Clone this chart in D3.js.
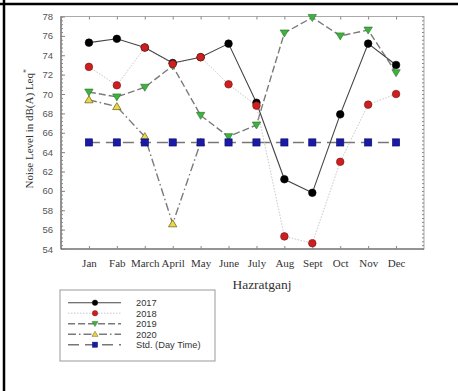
<!DOCTYPE html>
<html>
<head>
<meta charset="utf-8">
<script src="https://cdn.jsdelivr.net/npm/d3@7"></script>
<style>
  html, body { margin: 0; padding: 0; background: #fff; }
  svg { display: block; }
</style>
</head>
<body>
<svg id="chart" width="458" height="391"></svg>
<script>
// Monthly noise levels at Hazratganj, dB(A) Leq
const months = ["Jan", "Fab", "March", "April", "May", "June", "July", "Aug", "Sept", "Oct", "Nov", "Dec"];
const y2017 = [75.3, 75.7, 74.8, 73.2, 73.8, 75.2, 69.1, 61.2, 59.8, 67.9, 75.2, 73.0];
const y2018 = [72.8, 70.9, 74.8, 73.1, 73.8, 71.0, 68.8, 55.3, 54.6, 63.0, 68.9, 70.0];
const y2019 = [70.2, 69.7, 70.7, 72.9, 67.8, 65.6, 66.8, 76.3, 77.9, 76.0, 76.6, 72.2];
const y2020 = [69.4, 68.7, 65.6, 56.6, 65.0];
const stdDay = [65, 65, 65, 65, 65, 65, 65, 65, 65, 65, 65, 65];
const yTicks = [54, 56, 58, 60, 62, 64, 66, 68, 70, 72, 74, 76, 78];
const seriesNames = ["2017", "2018", "2019", "2020", "Std. (Day Time)"];

const svg = d3.select("#chart");
const plot = { left: 61, right: 424, top: 16.5, bottom: 249 };

const x = d3.scalePoint().domain(months).range([plot.left, plot.right]).padding(1);
const y = d3.scaleLinear().domain([54, 78]).range([plot.bottom, plot.top]);

// outer frame (top and left edges)
svg.append("line").attr("x1", 0).attr("x2", 458).attr("y1", 4).attr("y2", 4)
  .attr("stroke", "#000").attr("stroke-width", 2.5);
svg.append("line").attr("x1", 4).attr("x2", 4).attr("y1", 0).attr("y2", 391)
  .attr("stroke", "#000").attr("stroke-width", 2.5);

// plot frame
svg.append("rect").attr("x", plot.left).attr("y", plot.top)
  .attr("width", plot.right - plot.left).attr("height", plot.bottom - plot.top)
  .attr("fill", "none").attr("stroke", "#aaa").attr("stroke-width", 1);
svg.append("line").attr("x1", plot.left).attr("x2", plot.left).attr("y1", plot.top).attr("y2", plot.bottom)
  .attr("stroke", "#666").attr("stroke-width", 1.2);
svg.append("line").attr("x1", plot.left).attr("x2", plot.right).attr("y1", plot.bottom).attr("y2", plot.bottom)
  .attr("stroke", "#555").attr("stroke-width", 1.2);

// y axes (left labelled, right ticks only), ticks inward with minor ticks
const minor = d3.range(54, 78.001, 0.4);
const yLeft = svg.append("g").attr("transform", `translate(${plot.left},0)`)
  .call(d3.axisLeft(y).tickValues(yTicks).tickSize(-4).tickPadding(8).tickFormat(d3.format("d")));
const yRight = svg.append("g").attr("transform", `translate(${plot.right},0)`)
  .call(d3.axisRight(y).tickValues(minor).tickSize(-2).tickFormat(""));
const yLeftMinor = svg.append("g").attr("transform", `translate(${plot.left},0)`)
  .call(d3.axisLeft(y).tickValues(minor).tickSize(-2).tickFormat(""));
[yLeft, yRight, yLeftMinor].forEach(g => {
  g.select(".domain").remove();
  g.selectAll(".tick line").attr("stroke", "#888");
});
yLeft.selectAll(".tick text").attr("font-family", "Liberation Sans, Arial, sans-serif")
  .attr("font-size", 9.5).attr("fill", "#555");

// x axes (bottom labelled, top ticks only)
const xBottom = svg.append("g").attr("transform", `translate(0,${plot.bottom})`)
  .call(d3.axisBottom(x).tickSize(-3).tickPadding(10));
const xTop = svg.append("g").attr("transform", `translate(0,${plot.top})`)
  .call(d3.axisTop(x).tickSize(-3).tickFormat(""));
[xBottom, xTop].forEach(g => {
  g.select(".domain").remove();
  g.selectAll(".tick line").attr("stroke", "#888");
});
xBottom.selectAll(".tick text").attr("font-family", "Liberation Serif, Times New Roman, serif")
  .attr("font-size", 11).attr("fill", "#333");

// y axis title
svg.append("text")
  .attr("transform", `translate(33,${(plot.top + plot.bottom) / 2 - 4}) rotate(-90)`)
  .attr("text-anchor", "middle")
  .attr("font-family", "Liberation Serif, Times New Roman, serif")
  .attr("font-size", 11).attr("fill", "#333")
  .text("Noise Level in dB(A) Leq")
  .append("tspan").attr("dy", -4).attr("font-size", 8).text("*");

// x axis title
svg.append("text").attr("x", 262).attr("y", 289).attr("text-anchor", "middle")
  .attr("font-family", "Liberation Serif, Times New Roman, serif")
  .attr("font-size", 13.5).attr("fill", "#333").text("Hazratganj");

const styles = [
  { data: y2017, stroke: "#444", width: 1.1, dash: null, marker: "circle", fill: "#000", mstroke: "#000" },
  { data: y2018, stroke: "#c8c8c8", width: 1, dash: "1.5,1.5", marker: "circle", fill: "#cc1f1f", mstroke: "#7a1010" },
  { data: y2019, stroke: "#7a7a7a", width: 1.4, dash: "7,3", marker: "tdown", fill: "#3db33d", mstroke: "#2a6e2a" },
  { data: y2020, stroke: "#7a7a7a", width: 1.4, dash: "8,3,1.5,3", marker: "tup", fill: "#e8d848", mstroke: "#6a5a10" },
  { data: stdDay, stroke: "#777", width: 1.5, dash: "11,6", marker: "square", fill: "#1a1aa8", mstroke: "#0a0a60" }
];

const line = d3.line().x((d, i) => x(months[i])).y(d => y(d));

function drawMarker(g, kind, fill, stroke) {
  if (kind === "circle") {
    g.append("circle").attr("r", 3.8).attr("fill", fill).attr("stroke", stroke).attr("stroke-width", 0.6);
  } else if (kind === "square") {
    g.append("rect").attr("x", -3.6).attr("y", -3.6).attr("width", 7.2).attr("height", 7.2)
      .attr("fill", fill).attr("stroke", stroke).attr("stroke-width", 0.6);
  } else if (kind === "tdown") {
    g.append("path").attr("d", "M-4.2,-3 L4.2,-3 L0,4 Z").attr("fill", fill).attr("stroke", stroke).attr("stroke-width", 0.6);
  } else if (kind === "tup") {
    g.append("path").attr("d", "M-4.2,3 L4.2,3 L0,-4 Z").attr("fill", fill).attr("stroke", stroke).attr("stroke-width", 0.7);
  }
}

// lines first, then markers (2018 drawn over 2017 where they coincide)
[4, 3, 2, 1, 0].forEach(k => {
  const s = styles[k];
  svg.append("path").datum(s.data).attr("d", line).attr("fill", "none")
    .attr("stroke", s.stroke).attr("stroke-width", s.width)
    .attr("stroke-dasharray", s.dash);
});
[3, 2, 0, 1, 4].forEach(k => {
  const s = styles[k];
  s.data.forEach((d, i) => {
    const g = svg.append("g").attr("transform", `translate(${x(months[i])},${y(d)})`);
    drawMarker(g, s.marker, s.fill, s.mstroke);
  });
});

// legend
const lg = svg.append("g");
lg.append("rect").attr("x", 60).attr("y", 290).attr("width", 155).attr("height", 71)
  .attr("fill", "#fff").attr("stroke", "#999").attr("stroke-width", 1);
const legendY = d3.scalePoint().domain(seriesNames).range([302.7, 344.7]);
seriesNames.forEach((name, k) => {
  const s = styles[k];
  const yy = legendY(name);
  lg.append("line").attr("x1", 68).attr("x2", 121).attr("y1", yy).attr("y2", yy)
    .attr("stroke", s.stroke).attr("stroke-width", s.width).attr("stroke-dasharray", s.dash);
  drawMarker(lg.append("g").attr("transform", `translate(95,${yy}) scale(0.72)`), s.marker, s.fill, s.mstroke);
  lg.append("text").attr("x", 136).attr("y", yy + 3.3)
    .attr("font-family", "Liberation Sans, Arial, sans-serif").attr("font-size", 9.3).attr("fill", "#333")
    .text(name);
});
</script>
</body>
</html>
